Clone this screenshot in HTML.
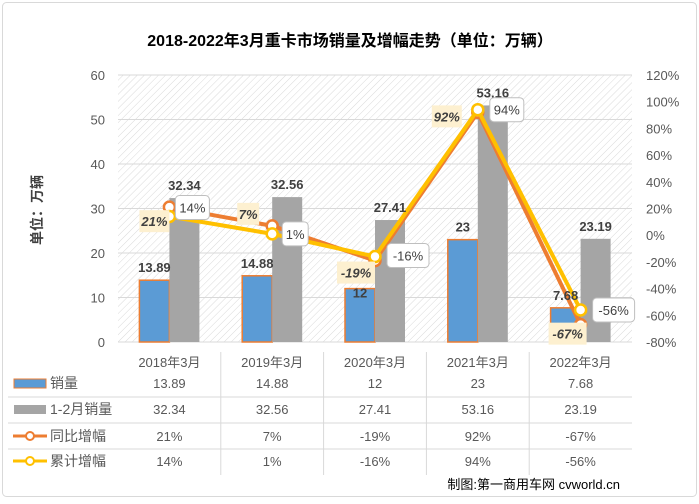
<!DOCTYPE html>
<html><head><meta charset="utf-8"><style>
html,body{margin:0;padding:0;background:#fff}
body{width:699px;height:499px;overflow:hidden;font-family:"Liberation Sans","Noto Sans CJK SC",sans-serif}
</style></head><body>
<svg id="chart" width="699" height="499" xmlns="http://www.w3.org/2000/svg" font-family="Liberation Sans, Noto Sans CJK SC, sans-serif">
<defs>
<pattern id="hatch" width="5" height="5" patternUnits="userSpaceOnUse" patternTransform="rotate(45)">
<rect width="5" height="5" fill="#fff"/><line x1="0" y1="0" x2="0" y2="5" stroke="#d9d9d9" stroke-width="1"/>
</pattern>
</defs>
<rect x="2.5" y="2.5" width="694" height="494" rx="4" fill="#fff" stroke="#d9d9d9"/>
<text x="350" y="46" text-anchor="middle" font-size="16" font-weight="bold" fill="#000">2018-2022年3月重卡市场销量及增幅走势（单位：万辆）</text>
<text transform="translate(42,210) rotate(-90)" text-anchor="middle" font-size="14" font-weight="bold" fill="#404040">单位：万辆</text>
<rect x="118" y="75" width="514" height="267" fill="url(#hatch)"/>
<g id="grid"></g><g id="bars"></g><g id="lines"></g><g id="labels"></g><g id="table"></g>
<text x="620" y="489" text-anchor="end" font-size="13" fill="#000">制图:第一商用车网 cvworld.cn</text>
</svg>
<script>
const categories=["2018年3月","2019年3月","2020年3月","2021年3月","2022年3月"];
const sales=[13.89,14.88,12,23,7.68];
const sales12=[32.34,32.56,27.41,53.16,23.19];
const yoy=[21,7,-19,92,-67];
const cum=[14,1,-16,94,-56];
const leftTicks=[0,10,20,30,40,50,60];
const rightTicks=[-80,-60,-40,-20,0,20,40,60,80,100,120];
const NS="http://www.w3.org/2000/svg";
const X0=118,X1=632,Y0=342,Y1=75,bw=(X1-X0)/categories.length;
const yL=v=>Y0-(v/60)*(Y0-Y1);
const yR=v=>Y0-((v+80)/200)*(Y0-Y1);
const cx=i=>X0+bw*(i+0.5);
// label placement offsets (layout only)
const yoyOff=[[-30,3],[-35,-23],[-38,1],[-46,-7],[-32,-2]];
const cumOff=[[6,-21],[10,-12],[12,-13],[12,-12],[12,-12]];
function el(tag,attrs,parent,text){const e=document.createElementNS(NS,tag);for(const k in attrs)e.setAttribute(k,attrs[k]);if(text!==undefined)e.textContent=text;parent.appendChild(e);return e;}
const g=document.getElementById('grid'),b=document.getElementById('bars'),l=document.getElementById('lines'),lb=document.getElementById('labels'),t=document.getElementById('table');
leftTicks.forEach(v=>{
 if(v>0){const ln=el('line',{x1:X0,x2:X1,y1:yL(v),y2:yL(v),stroke:'#d9d9d9'},g);
 
 }
 const tx=el('text',{x:105,y:yL(v)+5,'text-anchor':'end','font-size':13,fill:'#595959'},g,v);
 
 
});
rightTicks.forEach(v=>{
 const tx=el('text',{x:646,y:yR(v)+5,'font-size':13,fill:'#595959'},g,v+'%');
 
 
});
el('line',{x1:X0,x2:X1,y1:Y0,y2:Y0,stroke:'#d9d9d9'},g);
categories.forEach((c,i)=>{
 const r1=el('rect',{x:cx(i)-30,y:yL(sales[i]),width:30,height:Y0-yL(sales[i]),fill:'#5B9BD5',stroke:'#ED7D31','stroke-width':1.5},b);
 
 
 const r2=el('rect',{x:cx(i),y:yL(sales12[i]),width:30,height:Y0-yL(sales12[i]),fill:'#A5A5A5'},b);
 
 
 const ly=(i==2)?yL(sales[i])+9:yL(sales[i])-8;
 const t1=el('text',{x:cx(i)-15,y:ly,'text-anchor':'middle','font-size':13,'font-weight':'bold',fill:'#404040'},lb,sales[i]);
 
 
 const t2=el('text',{x:cx(i)+15,y:yL(sales12[i])-8,'text-anchor':'middle','font-size':13,'font-weight':'bold',fill:'#404040'},lb,sales12[i]);
 
 
});
const p1=el('polyline',{points:yoy.map((v,i)=>cx(i)+','+yR(v)).join(' '),fill:'none',stroke:'#ED7D31','stroke-width':4},l);


yoy.forEach((v,i)=>{
 const m=el('circle',{cx:cx(i),cy:yR(v),r:5.5,fill:'#fff',stroke:'#ED7D31','stroke-width':2.5},l);
 
 
});
const p2=el('polyline',{points:cum.map((v,i)=>cx(i)+','+yR(v)).join(' '),fill:'none',stroke:'#FFC000','stroke-width':4},l);


cum.forEach((v,i)=>{
 const m=el('circle',{cx:cx(i),cy:yR(v),r:5.5,fill:'#fff',stroke:'#FFC000','stroke-width':2.5},l);
 
 
});
yoy.forEach((v,i)=>{
 const s=v+'%',w=s.length*8+6;
 const bx=cx(i)+yoyOff[i][0],by=yR(v)+yoyOff[i][1];
 const r=el('rect',{x:bx,y:by,width:w,height:22,fill:'#FDF0D0'},lb);
 
 
 const tx=el('text',{x:bx+w/2,y:by+16,'text-anchor':'middle','font-size':13,'font-weight':'bold','font-style':'italic',fill:'#404040'},lb,s);
 
 
});
cum.forEach((v,i)=>{
 const s=v+'%',w=s.length*8+10;
 const bx=cx(i)+cumOff[i][0],by=yR(v)+cumOff[i][1];
 const r=el('rect',{x:bx,y:by,width:w,height:24,rx:4,fill:'#fff',stroke:'#bfbfbf'},lb);
 
 
 const tx=el('text',{x:bx+w/2,y:by+17,'text-anchor':'middle','font-size':13,fill:'#404040'},lb,s);
 
 
});
// data table
const rowsY=[362,383,409,436,461];
[397,423,449].forEach(y=>el('line',{x1:8,x2:X1,y1:y,y2:y,stroke:'#d9d9d9'},t));
for(let i=1;i<categories.length;i++)el('line',{x1:X0+bw*i,x2:X0+bw*i,y1:352,y2:475,stroke:'#d9d9d9'},t);
const rows=[sales,sales12,yoy.map(v=>v+'%'),cum.map(v=>v+'%')];
categories.forEach((c,i)=>{
 const h=el('text',{x:cx(i),y:rowsY[0]+5,'text-anchor':'middle','font-size':13,fill:'#595959'},t,c);
 
 
 rows.forEach((r,j)=>{
  const tx=el('text',{x:cx(i),y:rowsY[j+1]+5,'text-anchor':'middle','font-size':13,fill:'#595959'},t,r[i]);
  
  
 });
});
const legendNames=["销量","1-2月销量","同比增幅","累计增幅"];
legendNames.forEach((n,j)=>{
 const y=rowsY[j+1];
 if(j==0)el('rect',{x:14,y:y-4,width:32,height:9,fill:'#5B9BD5',stroke:'#ED7D31'},t);
 if(j==1)el('rect',{x:14,y:y-4,width:32,height:9,fill:'#A5A5A5'},t);
 if(j>=2){const c=j==2?'#ED7D31':'#FFC000';el('line',{x1:13,x2:47,y1:y,y2:y,stroke:c,'stroke-width':3},t);el('circle',{cx:30,cy:y,r:4,fill:'#fff',stroke:c,'stroke-width':2},t);}
 const tx=el('text',{x:50,y:y+5,'font-size':14,fill:'#595959'},t,n);
 
 
});
</script>
</body></html>
